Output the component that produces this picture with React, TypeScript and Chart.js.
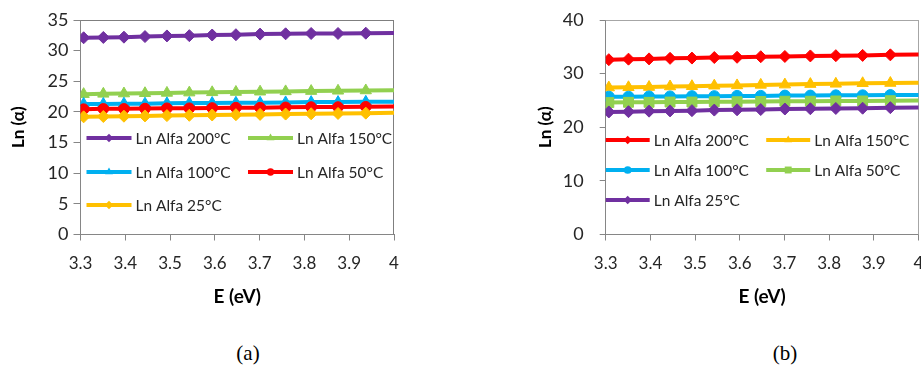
import React, { useEffect, useRef } from 'react';
import { Chart, registerables } from 'chart.js';

Chart.register(...registerables);
Chart.defaults.font.family = 'Lato';

// ---------- data ----------
const energyEV = [3.307, 3.351, 3.397, 3.444, 3.493, 3.543, 3.594, 3.647, 3.701, 3.758, 3.815, 3.875, 3.937, 4.066];
const xTickValues = [3.3, 3.4, 3.5, 3.6, 3.7, 3.8, 3.9, 4.0];
const xTickLabels = ['3.3', '3.4', '3.5', '3.6', '3.7', '3.8', '3.9', '4'];
const seriesNames = ['Ln Alfa 200°C', 'Ln Alfa 150°C', 'Ln Alfa 100°C', 'Ln Alfa 50°C', 'Ln Alfa 25°C'];

// panel (a)
const aYTicks = [0, 5, 10, 15, 20, 25, 30, 35];
const a200 = [32.1, 32.15, 32.2, 32.3, 32.4, 32.45, 32.55, 32.6, 32.7, 32.75, 32.8, 32.8, 32.85, 32.95];
const a150 = [22.9, 22.95, 23.0, 23.05, 23.1, 23.15, 23.2, 23.25, 23.3, 23.35, 23.4, 23.45, 23.5, 23.6];
const a100 = [21.3, 21.3, 21.35, 21.35, 21.4, 21.45, 21.45, 21.5, 21.5, 21.55, 21.6, 21.6, 21.65, 21.7];
const a50 = [20.45, 20.5, 20.5, 20.55, 20.6, 20.6, 20.65, 20.7, 20.7, 20.75, 20.8, 20.8, 20.85, 20.9];
const a25 = [19.2, 19.25, 19.3, 19.35, 19.4, 19.45, 19.5, 19.55, 19.6, 19.65, 19.7, 19.75, 19.8, 19.9];

// panel (b)
const bYTicks = [0, 10, 20, 30, 40];
const b200 = [32.6, 32.7, 32.75, 32.85, 32.9, 33.0, 33.05, 33.15, 33.2, 33.3, 33.35, 33.4, 33.5, 33.6];
const b150 = [27.4, 27.45, 27.5, 27.6, 27.65, 27.75, 27.8, 27.9, 27.95, 28.05, 28.1, 28.2, 28.25, 28.35];
const b100 = [25.7, 25.7, 25.75, 25.75, 25.8, 25.8, 25.85, 25.85, 25.9, 25.9, 25.95, 25.95, 26.0, 26.0];
const b50 = [24.6, 24.65, 24.65, 24.7, 24.7, 24.75, 24.75, 24.8, 24.85, 24.85, 24.9, 24.9, 24.95, 25.0];
const b25 = [22.85, 22.9, 23.0, 23.05, 23.1, 23.2, 23.25, 23.3, 23.4, 23.45, 23.5, 23.55, 23.65, 23.7];

const PURPLE = '#7030A0';
const GREEN = '#92D050';
const BLUE = '#00B0F0';
const RED = '#FF0000';
const YELLOW = '#FFC000';

const TEXT = '#262626';

// ---------- helpers ----------
function drawMarker(ctx: CanvasRenderingContext2D, style: string, x: number, y: number, r: number) {
  ctx.beginPath();
  if (style === 'circle') {
    ctx.arc(x, y, r, 0, Math.PI * 2);
  } else if (style === 'rectRot') {
    ctx.moveTo(x, y - r);
    ctx.lineTo(x + r, y);
    ctx.lineTo(x, y + r);
    ctx.lineTo(x - r, y);
    ctx.closePath();
  } else if (style === 'triangle') {
    ctx.moveTo(x, y - r);
    ctx.lineTo(x + r * 0.866, y + r * 0.5);
    ctx.lineTo(x - r * 0.866, y + r * 0.5);
    ctx.closePath();
  } else {
    const s = r * Math.SQRT1_2;
    ctx.rect(x - s, y - s, 2 * s, 2 * s);
  }
  ctx.fill();
}

const framePlugin = {
  id: 'frame',
  beforeDatasetsDraw(chart: any, _args: any, opts: any) {
    const { ctx, chartArea: a } = chart;
    ctx.save();
    ctx.strokeStyle = opts.color;
    ctx.lineWidth = 1;
    ctx.beginPath();
    ctx.moveTo(a.left, Math.round(a.top) + 0.5);
    ctx.lineTo(a.right, Math.round(a.top) + 0.5);
    ctx.moveTo(Math.round(a.right) - 0.5, a.top);
    ctx.lineTo(Math.round(a.right) - 0.5, a.bottom);
    ctx.stroke();
    ctx.restore();
  },
};

const inlineLegendPlugin = {
  id: 'inlineLegend',
  afterDraw(chart: any, _args: any, opts: any) {
    const { ctx, chartArea: a } = chart;
    ctx.save();
    chart.data.datasets.forEach((ds: any, i: number) => {
      const col = i % 2;
      const row = Math.floor(i / 2);
      const x = a.left + opts.colX[col];
      const y = a.top + opts.rowY[row];
      ctx.strokeStyle = ds.borderColor;
      ctx.lineWidth = ds.borderWidth;
      ctx.lineCap = 'butt';
      ctx.beginPath();
      ctx.moveTo(x, y);
      ctx.lineTo(x + opts.lineLen, y);
      ctx.stroke();
      ctx.fillStyle = ds.borderColor;
      drawMarker(ctx, ds.pointStyle, x + opts.lineLen / 2, y, ds.pointRadius * 0.7);
      ctx.fillStyle = TEXT;
      ctx.font = `${opts.fontSize}px Lato`;
      ctx.textAlign = 'left';
      ctx.textBaseline = 'middle';
      const tx = x + opts.lineLen + opts.gap;
      ctx.save();
      ctx.translate(tx, y + 1);
      ctx.scale(opts.stretch, 1);
      ctx.fillText(ds.label, 0, 0);
      ctx.restore();
    });
    ctx.restore();
  },
};

type Panel = {
  left: number;
  width: number;
  height: number;
  series: number[][];
  colors: string[];
  styles: string[];
  radii: number[];
  yMax: number;
  yTicks: number[];
  padTop: number;
  padRight: number;
  yAxisWidth: number;
  xAxisHeight: number;
  yTitlePad: number;
  yTickPad: number;
  yTickLen: number;
  axisColor: string;
  frameColor: string;
  legend: any;
};

const panelA: Panel = {
  left: 0,
  width: 410,
  height: 320,
  series: [a200, a150, a100, a50, a25],
  colors: [PURPLE, GREEN, BLUE, RED, YELLOW],
  styles: ['rectRot', 'triangle', 'triangle', 'circle', 'rectRot'],
  radii: [6, 6.5, 6.5, 5.3, 6],
  yMax: 35,
  yTicks: aYTicks,
  padTop: 20,
  padRight: 16,
  yAxisWidth: 80.5,
  xAxisHeight: 85.5,
  yTitlePad: 8,
  yTickPad: 5,
  yTickLen: 7,
  axisColor: '#868686',
  frameColor: '#7f7f7f',
  legend: { colX: [6, 167.5], rowY: [118, 152, 185], lineLen: 45, gap: 4, fontSize: 15, stretch: 1.03 },
};

const panelB: Panel = {
  left: 520,
  width: 420,
  height: 320,
  series: [b200, b150, b100, b50, b25],
  colors: [RED, YELLOW, BLUE, GREEN, PURPLE],
  styles: ['rectRot', 'triangle', 'circle', 'rect', 'rectRot'],
  radii: [6, 6.5, 5.5, 7, 6],
  yMax: 40,
  yTicks: bYTicks,
  padTop: 20,
  padRight: 21.5,
  yAxisWidth: 85.7,
  xAxisHeight: 85.5,
  yTitlePad: 15,
  yTickPad: 16,
  yTickLen: 6,
  axisColor: '#868686',
  frameColor: '#a6a6a6',
  legend: { colX: [0, 160.5], rowY: [120, 150, 180], lineLen: 44, gap: 4, fontSize: 15, stretch: 1.03 },
};

function LnChart({ p }: { p: Panel }) {
  const ref = useRef<HTMLCanvasElement>(null);
  useEffect(() => {
    const datasets = p.series.map((vals, i) => ({
      label: seriesNames[i],
      data: energyEV.map((e, k) => ({ x: e, y: vals[k] })),
      borderColor: p.colors[i],
      backgroundColor: p.colors[i],
      borderWidth: 4,
      pointStyle: p.styles[i],
      pointRadius: p.radii[i],
      pointBorderWidth: 1,
      pointBorderColor: p.colors[i],
      pointBackgroundColor: p.colors[i],
      tension: 0,
      order: -i,
    }));
    const chart = new Chart(ref.current as HTMLCanvasElement, {
      type: 'line',
      data: { datasets },
      plugins: [framePlugin, inlineLegendPlugin],
      options: {
        responsive: false,
        animation: false,
        devicePixelRatio: 1,
        layout: { padding: { top: p.padTop, right: p.padRight, left: 0, bottom: 0 } },
        plugins: {
          legend: { display: false },
          tooltip: { enabled: false },
          frame: { color: p.frameColor },
          inlineLegend: p.legend,
        } as any,
        scales: {
          x: {
            type: 'linear',
            min: 3.3,
            max: 4,
            afterBuildTicks: (s: any) => {
              s.ticks = xTickValues.map((v) => ({ value: v }));
            },
            afterFit: (s: any) => {
              s.height = p.xAxisHeight;
              s.paddingLeft = 0;
              s.paddingRight = 0;
            },
            ticks: {
              callback: (_v: any, i: number) => xTickLabels[i],
              font: { size: 17 },
              color: TEXT,
              padding: 13,
              maxRotation: 0,
              autoSkip: false,
            },
            grid: { display: true, drawOnChartArea: false, drawTicks: true, tickLength: 6, color: p.axisColor },
            border: { display: true, color: p.axisColor, width: 1 },
            title: {
              display: true,
              text: 'E (eV)',
              font: { size: 19, weight: 'bold' },
              color: '#000',
              padding: { top: 0, bottom: 12 },
            },
          },
          y: {
            type: 'linear',
            min: 0,
            max: p.yMax,
            afterBuildTicks: (s: any) => {
              s.ticks = p.yTicks.map((v) => ({ value: v }));
            },
            afterFit: (s: any) => {
              s.width = p.yAxisWidth;
              s.paddingTop = 0;
              s.paddingBottom = 0;
            },
            ticks: {
              callback: (v: any) => String(v),
              font: { size: 18 },
              color: TEXT,
              padding: p.yTickPad,
            },
            grid: { display: true, drawOnChartArea: false, drawTicks: true, tickLength: p.yTickLen, color: p.axisColor },
            border: { display: true, color: p.axisColor, width: 1 },
            title: {
              display: true,
              text: 'Ln (α)',
              font: { size: 17, weight: 'bold' },
              color: '#000',
              padding: { top: p.yTitlePad, bottom: 0 },
            },
          },
        },
      } as any,
    });
    return () => chart.destroy();
  }, []);
  return (
    <canvas
      ref={ref}
      width={p.width}
      height={p.height}
      style={{ position: 'absolute', left: p.left, top: 0, display: 'block' }}
    />
  );
}

const captionStyle: React.CSSProperties = {
  position: 'absolute',
  top: 341,
  width: 60,
  textAlign: 'center',
  fontFamily: '"Liberation Serif", "Times New Roman", serif',
  fontSize: 21,
  lineHeight: '24px',
  color: '#000',
};

export default function App() {
  return (
    <div
      style={{
        position: 'absolute',
        left: 0,
        top: 0,
        width: 921,
        height: 368,
        overflow: 'hidden',
        background: '#fff',
      }}
    >
      <LnChart p={panelA} />
      <LnChart p={panelB} />
      <div style={{ ...captionStyle, left: 248 - 30 }}>(a)</div>
      <div style={{ ...captionStyle, left: 785 - 30 }}>(b)</div>
    </div>
  );
}
